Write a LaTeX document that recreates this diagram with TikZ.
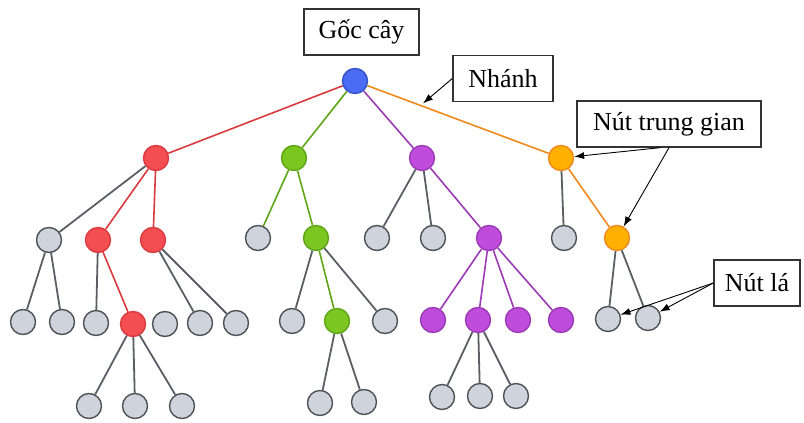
\documentclass[tikz,border=0pt]{standalone}
\usepackage{fontspec}
\setmainfont{Liberation Serif}
\usetikzlibrary{arrows.meta,calc}

\definecolor{rootfill}{HTML}{4A6CF2}
\definecolor{rootline}{HTML}{3553C8}
\definecolor{redfill}{HTML}{F44E52}
\definecolor{redline}{HTML}{D83A3E}
\definecolor{grnfill}{HTML}{7CC622}
\definecolor{grnline}{HTML}{5EA518}
\definecolor{purfill}{HTML}{BF4CDB}
\definecolor{purline}{HTML}{9C3AB6}
\definecolor{orgfill}{HTML}{FFB000}
\definecolor{orgline}{HTML}{F08A1C}
\definecolor{leaffill}{HTML}{CFD4DC}
\definecolor{leafline}{HTML}{4E5358}
\definecolor{greyedge}{HTML}{5A5F66}
\definecolor{boxline}{HTML}{333333}

\tikzset{
  nd/.style={circle, minimum size=25pt, inner sep=0pt, line width=1.4pt},
  rootnd/.style={nd, fill=rootfill, draw=rootline},
  rednd/.style={nd, fill=redfill, draw=redline},
  grnnd/.style={nd, fill=grnfill, draw=grnline},
  purnd/.style={nd, fill=purfill, draw=purline},
  orgnd/.style={nd, fill=orgfill, draw=orgline},
  leafnd/.style={nd, fill=leaffill, draw=leafline},
  edge/.style={line width=1.8pt, draw=greyedge},
  redge/.style={line width=1.6pt, draw=redline},
  gedge/.style={line width=1.6pt, draw=grnline},
  pedge/.style={line width=1.6pt, draw=purline},
  oedge/.style={line width=1.6pt, draw=orgline},
  labelbox/.style={draw=boxline, line width=1.4pt, fill=white, inner sep=0pt,
    minimum height=46pt, font=\fontsize{26pt}{30pt}\selectfont},
  pointer/.style={line width=0.9pt, draw=black, -{Latex[length=10pt,width=7pt]}},
}

\begin{document}
\begin{tikzpicture}[x=1pt, y=-1pt]
\useasboundingbox (0,0) rectangle (804,423);

% root and first level
\node[rootnd] (r) at (355,81) {};
\node[rednd] (a) at (156,158) {};
\node[grnnd] (b) at (294,158) {};
\node[purnd] (c) at (422,158) {};
\node[orgnd] (d) at (561,158) {};

% second level
\node[leafnd] (a1) at (49,240) {};
\node[rednd]  (a2) at (98,240) {};
\node[rednd]  (a3) at (153,240) {};
\node[leafnd] (b1) at (258,238) {};
\node[grnnd]  (b2) at (316,238) {};
\node[leafnd] (c1) at (377,238) {};
\node[leafnd] (c2) at (433,238) {};
\node[purnd]  (c3) at (489,238) {};
\node[leafnd] (d1) at (564,238) {};
\node[orgnd]  (d2) at (617,238) {};

% third level
\node[leafnd] (a11) at (23,322) {};
\node[leafnd] (a12) at (62,322) {};
\node[leafnd] (a21) at (96,323) {};
\node[rednd]  (a22) at (133,324) {};
\node[leafnd] (x1)  at (165,324) {};
\node[leafnd] (a31) at (200,323) {};
\node[leafnd] (a32) at (236,323) {};
\node[leafnd] (b21) at (292,321) {};
\node[grnnd]  (b22) at (337,321) {};
\node[leafnd] (b23) at (385,321) {};
\node[purnd]  (c31) at (433,320) {};
\node[purnd]  (c32) at (478,320) {};
\node[purnd]  (c33) at (518,320) {};
\node[purnd]  (c34) at (561,320) {};
\node[leafnd] (d21) at (608,319) {};
\node[leafnd] (d22) at (648,318) {};

% fourth level
\node[leafnd] (a221) at (89,406) {};
\node[leafnd] (a222) at (135,406) {};
\node[leafnd] (a223) at (182,406) {};
\node[leafnd] (b221) at (320,403) {};
\node[leafnd] (b222) at (364,402) {};
\node[leafnd] (c321) at (442,397) {};
\node[leafnd] (c322) at (480,396) {};
\node[leafnd] (c323) at (516,396) {};

% branches
\draw[redge] (r) -- (a);
\draw[gedge] (r) -- (b);
\draw[pedge] (r) -- (c);
\draw[oedge] (r) -- (d);

\draw[edge]  (a) -- (a1);
\draw[redge] (a) -- (a2);
\draw[redge] (a) -- (a3);
\draw[edge]  (a1) -- (a11);
\draw[edge]  (a1) -- (a12);
\draw[edge]  (a2) -- (a21);
\draw[redge] (a2) -- (a22);
\draw[edge]  (a3) -- (a31);
\draw[edge]  (a3) -- (a32);
\draw[edge]  (a22) -- (a221);
\draw[edge]  (a22) -- (a222);
\draw[edge]  (a22) -- (a223);

\draw[gedge] (b) -- (b1);
\draw[gedge] (b) -- (b2);
\draw[edge]  (b2) -- (b21);
\draw[gedge] (b2) -- (b22);
\draw[edge]  (b2) -- (b23);
\draw[edge]  (b22) -- (b221);
\draw[edge]  (b22) -- (b222);

\draw[edge]  (c) -- (c1);
\draw[edge]  (c) -- (c2);
\draw[pedge] (c) -- (c3);
\draw[pedge] (c3) -- (c31);
\draw[pedge] (c3) -- (c32);
\draw[pedge] (c3) -- (c33);
\draw[pedge] (c3) -- (c34);
\draw[edge]  (c32) -- (c321);
\draw[edge]  (c32) -- (c322);
\draw[edge]  (c32) -- (c323);

\draw[edge]  (d) -- (d1);
\draw[oedge] (d) -- (d2);
\draw[edge]  (d2) -- (d21);
\draw[edge]  (d2) -- (d22);

% captions
\node[labelbox, minimum width=115pt] (lroot) at (361.5,32) {Gốc cây};
\node[labelbox, minimum width=100pt] (lbranch) at (503,78.5) {Nhánh};
\node[labelbox, minimum width=184pt] (linner) at (669,124) {Nút trung gian};
\node[labelbox, minimum width=86pt] (lleaf) at (757,283) {Nút lá};

\coordinate (onbranch) at ($(r)!0.33!(d) + (0,-3)$);
\draw[pointer] (lbranch.west) -- (onbranch);
\draw[pointer] ([xshift=-9pt]linner.south) -- (d);
\draw[pointer] (linner.south) -- (d2);
\draw[pointer] (lleaf.west) -- (d21);
\draw[pointer] (lleaf.west) -- (d22);
\end{tikzpicture}
\end{document}
